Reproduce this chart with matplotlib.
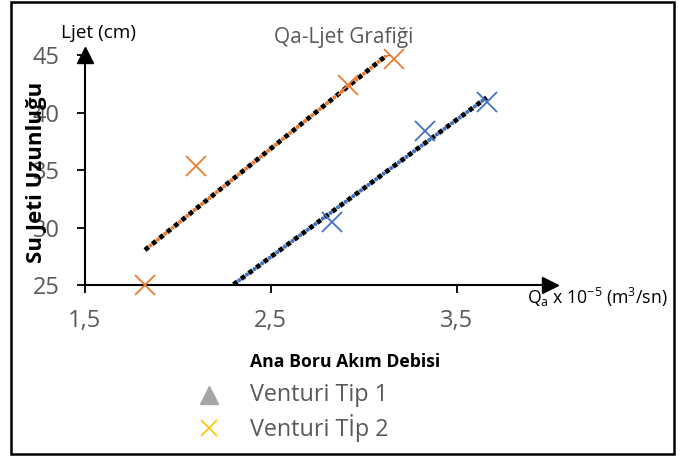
import numpy as np
import matplotlib.pyplot as plt
from matplotlib.lines import Line2D
from matplotlib.patches import Rectangle

plt.rcParams['font.family'] = ['Open Sans', 'DejaVu Sans']
plt.rcParams['mathtext.fontset'] = 'custom'
plt.rcParams['mathtext.rm'] = 'Open Sans'

# olculen noktalar (Qa x 1e-5 m3/sn, Ljet cm)
qa_mavi = [2.828, 3.330, 3.665]
ljet_mavi = [30.48, 38.39, 40.94]
qa_turuncu = [1.824, 2.098, 2.916, 3.163]
ljet_turuncu = [25.0, 35.35, 42.4, 44.65]

# egilim cizgileri (uc noktalar)
trend_mavi_x = [2.30, 3.661]
trend_mavi_y = [25.05, 41.3]
trend_turuncu_x = [1.824, 3.163]
trend_turuncu_y = [28.05, 45.5]

xticks = [1.5, 2.5, 3.5]
xtick_labels = ['1,5', '2,5', '3,5']
yticks = [25, 30, 35, 40, 45]

gri = '#595959'
mavi = '#4472C4'
turuncu = '#ED7D31'

fig = plt.figure(figsize=(6.92, 4.59), dpi=100)
ax = fig.add_axes([0.1224, 0.379, 0.672, 0.501])

def egilim(x, y, renk):
    # siyah kare noktalar, aralarina renkli yuvarlak noktalar
    ax.plot(x, y, color='black', lw=3.4, linestyle=(0, (1, 1)),
            dash_capstyle='butt', zorder=2)
    ax.plot(x, y, color=renk, lw=3.0, linestyle=(0.567, (0.05, 2.2167)),
            dash_capstyle='round', zorder=3)

egilim(trend_mavi_x, trend_mavi_y, mavi)
egilim(trend_turuncu_x, trend_turuncu_y, turuncu)

ax.plot(qa_mavi, ljet_mavi, 'x', color=mavi, ms=14, mew=1.3, zorder=4, clip_on=False)
ax.plot(qa_turuncu, ljet_turuncu, 'x', color=turuncu, ms=14, mew=1.3, zorder=4, clip_on=False)

ax.set_xlim(1.5, 4.0)
ax.set_ylim(25, 45)
ax.set_xticks(xticks)
ax.set_xticklabels(xtick_labels)
ax.set_yticks(yticks)
ax.tick_params(direction='out', length=6, width=1.3, color='black',
               labelsize=17, labelcolor=gri, pad=12)
ax.tick_params(axis='x', pad=11)
for s in ['top', 'right']:
    ax.spines[s].set_visible(False)
for s in ['left', 'bottom']:
    ax.spines[s].set_linewidth(1.5)

# eksen oklari
ax.plot([1], [0], marker='>', ms=12, color='black', transform=ax.transAxes, clip_on=False)
ax.plot([0], [1], marker='^', ms=12, color='black', transform=ax.transAxes, clip_on=False)

ax.set_ylabel('Su Jeti Uzunluğu', fontsize=16, fontweight='bold', color='black')
ax.yaxis.set_label_coords(-0.08, 0.49)

fig.text(0.088, 0.928, 'Ljet (cm)', fontsize=13.7, color='black', ha='left', va='center')
fig.text(0.496, 0.918, 'Qa-Ljet Grafiği', fontsize=15, color=gri, ha='center', va='center')
fig.text(0.761, 0.353, r'$\mathregular{Q_a}$ x 10$^{\mathregular{-5}}$ (m$^{\mathregular{3}}$/sn)',
         fontsize=12.7, color='black', ha='left', va='center')
fig.text(0.499, 0.211, 'Ana Boru Akım Debisi', fontsize=12.7, fontweight='bold',
         color='black', ha='center', va='center')

# lejant
fig.lines.append(Line2D([0.302], [0.139], marker='^', ms=13, color='#A5A5A5',
                        linestyle='none', transform=fig.transFigure))
fig.lines.append(Line2D([0.302], [0.067], marker='x', ms=12, mew=1.2, color='#FFC000',
                        linestyle='none', transform=fig.transFigure))
fig.text(0.361, 0.139, 'Venturi Tip 1', fontsize=16.8, color=gri, ha='left', va='center')
fig.text(0.361, 0.067, 'Venturi Tİp 2', fontsize=16.8, color=gri, ha='left', va='center')

# dis cerceve
fig.patches.append(Rectangle((0.016, 0.011), 0.958, 0.985, transform=fig.transFigure,
                             fill=False, edgecolor='black', lw=1.8))

fig.savefig('out.png', dpi=100)
